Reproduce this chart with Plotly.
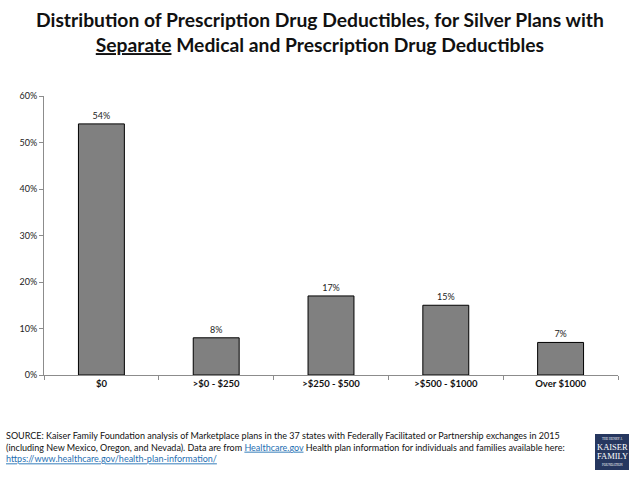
import plotly.graph_objects as go

categories = ["$0", ">$0 - $250", ">$250 - $500", ">$500 - $1000", "Over $1000"]
values = [54, 8, 17, 15, 7]
labels = ["54%", "8%", "17%", "15%", "7%"]
y_ticks = [0, 10, 20, 30, 40, 50, 60]
y_tick_text = ["0%", "10%", "20%", "30%", "40%", "50%", "60%"]

FONT = "Lato, 'Open Sans', sans-serif"
L, R, T, B = 44, 20, 96, 104
PW, PH = 638 - L - R, 479 - T - B

def px(x):
    return (x - L) / PW

def py(y):
    return (479 - B - y) / PH

fig = go.Figure()
fig.add_trace(go.Bar(
    x=categories, y=values, text=labels, textposition="outside",
    textfont=dict(size=9, color="#222222", family=FONT),
    marker=dict(color="#808080", line=dict(color="#000000", width=1)),
    width=0.4, cliponaxis=False,
))

fig.update_layout(
    width=638, height=479,
    margin=dict(l=L, r=R, t=T, b=B),
    paper_bgcolor="white", plot_bgcolor="white",
    showlegend=False,
    font=dict(family=FONT, color="#222222"),
    xaxis=dict(
        showline=True, linecolor="#8c8c8c", linewidth=1,
        ticks="outside", tickson="boundaries", ticklen=4, tickcolor="#8c8c8c",
        tickfont=dict(size=9.5, color="#111111", family=FONT),
        tickprefix="<b>", ticksuffix="</b>",
        showgrid=False,
    ),
    yaxis=dict(
        range=[0, 60], tickvals=y_ticks, ticktext=y_tick_text,
        showline=True, linecolor="#8c8c8c", linewidth=1,
        ticks="outside", ticklen=4, tickcolor="#8c8c8c",
        tickfont=dict(size=9, color="#222222", family=FONT),
        showgrid=False, zeroline=False,
    ),
)

fig.add_annotation(
    text="<b>Distribution of Prescription Drug Deductibles, for Silver Plans with</b><br><b><u>Separate</u> Medical and Prescription Drug Deductibles</b>",
    xref="paper", yref="paper", x=px(320), y=py(6), xanchor="center", yanchor="top",
    showarrow=False, align="center",
    font=dict(size=19.3, color="#111111", family=FONT),
)

src = ("SOURCE: Kaiser Family Foundation analysis of Marketplace plans in the 37 states with Federally Facilitated or Partnership exchanges in 2015<br>"
       "(including New Mexico, Oregon, and Nevada). Data are from <span style='color:#1f6fb2'><u>Healthcare.gov</u></span> Health plan information for individuals and families available here:<br>"
       "<span style='color:#1f6fb2'><u>https://www.healthcare.gov/health-plan-information/</u></span>")
fig.add_annotation(
    text=src, xref="paper", yref="paper", x=px(4), y=py(428), xanchor="left", yanchor="top",
    showarrow=False, align="left",
    font=dict(size=9, color="#111111", family=FONT),
)

# KFF logo box
fig.add_shape(type="rect", xref="paper", yref="paper",
              x0=px(595), x1=px(629), y0=py(470), y1=py(434),
              fillcolor="#26375f", line=dict(width=0))
logo_lines = [("THE HENRY J.", 3.2, 439), ("KAISER", 8.5, 447), ("FAMILY", 8.5, 456), ("FOUNDATION", 3.2, 465)]
for txt, sz, yy in logo_lines:
    fig.add_annotation(
        text=txt, xref="paper", yref="paper", x=px(612), y=py(yy),
        xanchor="center", yanchor="middle", showarrow=False,
        font=dict(size=sz, color="white", family="'Liberation Serif', serif"),
    )

fig.write_html("out.html", config={"displayModeBar": False},
               post_script="document.body.style.margin='0';")
